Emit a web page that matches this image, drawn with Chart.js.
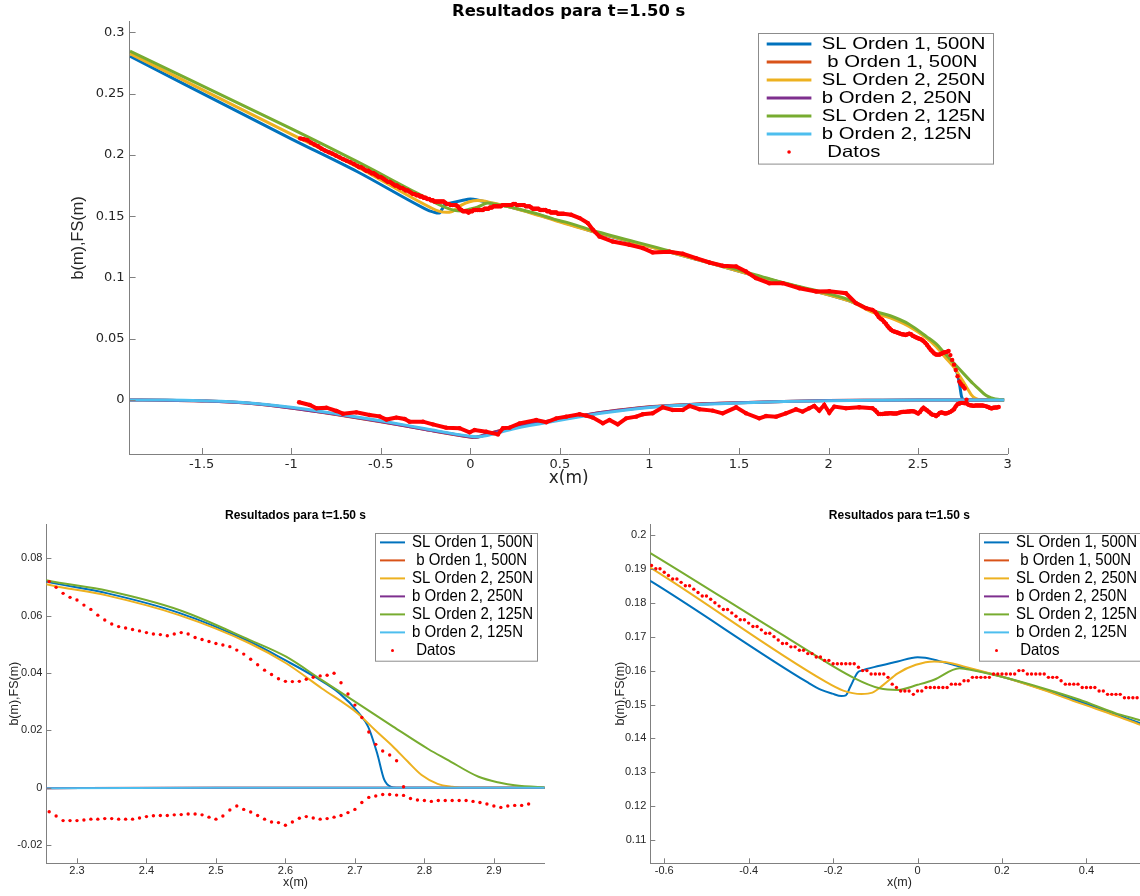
<!DOCTYPE html>
<html>
<head>
<meta charset="utf-8">
<script src="https://cdn.jsdelivr.net/npm/chart.js@4"></script>
<style>
html, body { margin: 0; padding: 0; background: #fff; overflow: hidden; width: 1140px; height: 896px; }
canvas { position: absolute; }
</style>
</head>
<body>
<canvas id="graph" width="1140" height="490" style="left:0;top:0"></canvas>
<canvas id="frente" width="570" height="396" style="left:0;top:500px"></canvas>
<canvas id="resalto" width="579" height="396" style="left:570px;top:500px"></canvas>
<script>
// superficie libre, modelo orden 1 con 500 nodos
const slO1X = [-1.9, -1.0, -0.63, -0.26, -0.228, -0.202, -0.18, -0.17, -0.159, -0.142, -0.133, -0.09, -0.047, 0, 0.018, 0.039, 0.099, 0.168, 0.211, 0.297, 0.384, 0.504, 0.684, 1.112, 1.595, 1.93, 2.115, 2.256, 2.344, 2.447, 2.549, 2.601, 2.642, 2.678, 2.706, 2.719, 2.732, 2.742, 2.752, 2.76, 2.98];
const slO1Y = [0.2805, 0.2131, 0.1862, 0.1565, 0.1543, 0.1532, 0.1525, 0.1527, 0.1553, 0.1594, 0.1600, 0.1614, 0.1627, 0.1639, 0.1638, 0.1632, 0.1612, 0.1592, 0.1578, 0.1545, 0.1509, 0.1455, 0.1375, 0.1208, 0.1012, 0.0885, 0.0808, 0.0719, 0.0678, 0.0610, 0.0509, 0.0443, 0.0387, 0.0329, 0.0259, 0.0213, 0.0120, 0.0029, 0.0003, 0, 0];

// orden 2, 250 nodos
const slO2aX = [-1.9, -1.0, -0.631, -0.219, -0.176, -0.133, -0.107, -0.081, -0.047, -0.004, 0.039, 0.065, 0.125, 0.211, 0.297, 0.384, 0.47, 0.528, 0.684, 1.112, 1.595, 1.93, 2.115, 2.256, 2.344, 2.447, 2.549, 2.601, 2.652, 2.704, 2.729, 2.755, 2.776, 2.796, 2.819, 2.84, 2.858, 2.98];
const slO2aY = [0.2827, 0.2170, 0.1902, 0.1568, 0.1541, 0.1531, 0.1535, 0.1558, 0.1592, 0.1617, 0.1627, 0.1625, 0.1607, 0.1578, 0.1543, 0.1504, 0.1467, 0.1440, 0.1375, 0.1208, 0.1012, 0.0885, 0.0808, 0.0710, 0.0670, 0.0602, 0.0503, 0.0434, 0.0347, 0.0259, 0.0201, 0.0143, 0.0091, 0.0044, 0.0013, 0.0003, 0, 0];

// orden 2, 125 nodos
const slO2bX = [-1.9, -1.0, -0.631, -0.30, -0.15, -0.09, -0.047, 0, 0.039, 0.099, 0.134, 0.211, 0.297, 0.384, 0.47, 0.528, 0.684, 1.112, 1.595, 1.743, 1.93, 2.115, 2.256, 2.344, 2.447, 2.549, 2.601, 2.652, 2.704, 2.755, 2.806, 2.832, 2.878, 2.909, 2.93, 2.98];
const slO2bY = [0.2846, 0.2215, 0.1945, 0.1690, 0.1578, 0.1548, 0.1543, 0.1558, 0.1573, 0.1607, 0.1600, 0.1578, 0.1548, 0.1514, 0.1474, 0.1453, 0.1383, 0.1217, 0.1021, 0.0958, 0.0893, 0.0817, 0.0724, 0.0687, 0.0620, 0.0515, 0.0457, 0.0376, 0.0294, 0.0213, 0.0134, 0.0099, 0.0038, 0.0017, 0.0008, 0];

// fondo (b)
const fondoX = [-1.9, -1.7, -1.5, -1.25, -1.0, -0.75, -0.5, -0.25, 0, 0.02, 0.1, 0.25, 0.5, 0.75, 1.0, 1.25, 1.5, 1.75, 2.0, 2.25, 2.5, 2.98];
const fondoO1Y = [0, -0.0002, -0.0008, -0.0025, -0.0066, -0.0118, -0.0177, -0.0242, -0.0303, -0.0306, -0.0275, -0.0218, -0.0157, -0.0098, -0.0056, -0.0035, -0.0022, -0.0012, -0.0005, -0.0002, 0, 0];
const fondoO2aY = [0, -0.0002, -0.0008, -0.0025, -0.0065, -0.0117, -0.0176, -0.0241, -0.0302, -0.0305, -0.0276, -0.0219, -0.0158, -0.0099, -0.0057, -0.0035, -0.0022, -0.0012, -0.0005, -0.0002, 0, 0];
const fondoO2bX = [-1.9, -1.7, -1.5, -1.25, -1.0, -0.75, -0.5, -0.25, 0, 0.04, 0.1, 0.25, 0.5, 0.75, 1.0, 1.25, 1.5, 1.75, 2.0, 2.25, 2.5, 2.98];
const fondoO2bY = [0, -0.0001, -0.0007, -0.0022, -0.0060, -0.0112, -0.0170, -0.0235, -0.0296, -0.0300, -0.0288, -0.0233, -0.0166, -0.0105, -0.0061, -0.0038, -0.0024, -0.0013, -0.0006, -0.0002, 0, 0];

// datos medidos: superficie
const datosSupX = [
  -0.95, -0.93, -0.91, -0.89, -0.87, -0.85, -0.83, -0.81, -0.79, -0.77, -0.75, -0.73, -0.71, -0.69, -0.67, -0.65,
  -0.63, -0.62, -0.61, -0.6, -0.59, -0.58, -0.57, -0.56, -0.55, -0.54,
  -0.53, -0.52, -0.51, -0.5, -0.49, -0.48, -0.47, -0.46, -0.45, -0.44,
  -0.43, -0.42, -0.41, -0.4, -0.39, -0.38, -0.37, -0.36, -0.35, -0.34,
  -0.33, -0.32, -0.31, -0.3, -0.29, -0.28, -0.27, -0.26, -0.25, -0.24,
  -0.23, -0.22, -0.21, -0.2, -0.19, -0.18, -0.17, -0.16, -0.15, -0.14,
  -0.13, -0.12, -0.11, -0.1, -0.09, -0.08, -0.07, -0.06, -0.05, -0.04,
  -0.03, -0.02, -0.01, 0, 0.01, 0.02, 0.03, 0.04, 0.05, 0.06,
  0.07, 0.08, 0.09, 0.1, 0.11, 0.12, 0.13, 0.14, 0.15, 0.16,
  0.17, 0.18, 0.19, 0.2, 0.21, 0.22, 0.23, 0.24, 0.25, 0.26,
  0.27, 0.28, 0.29, 0.3, 0.31, 0.32, 0.33, 0.34, 0.35, 0.36,
  0.37, 0.38, 0.39, 0.4, 0.41, 0.42, 0.43, 0.44, 0.45, 0.46,
  0.47, 0.48, 0.49, 0.5, 0.51, 0.52,
  0.563, 0.61, 0.656, 0.684, 0.721, 0.795, 0.888, 0.963, 1.018, 1.112, 1.186, 1.26, 1.335,
  1.409, 1.484, 1.539, 1.595, 1.669, 1.743, 1.837, 1.93, 2.004, 2.097, 2.153, 2.209, 2.245,
  2.26, 2.27, 2.28, 2.29, 2.3, 2.31, 2.32, 2.33, 2.34, 2.35,
  2.36, 2.37, 2.38, 2.39, 2.4, 2.41, 2.42, 2.43, 2.44, 2.45,
  2.46, 2.47, 2.48, 2.49, 2.5, 2.51, 2.52, 2.53, 2.54, 2.55,
  2.56, 2.57, 2.58, 2.59, 2.6, 2.61, 2.62, 2.63, 2.64, 2.65,
  2.66, 2.67, 2.68, 2.69, 2.7, 2.71, 2.72, 2.73, 2.74, 2.75,
  2.76, 2.77
];
const datosSupY = [
  0.2135, 0.2128, 0.2120, 0.2100, 0.2085, 0.2070, 0.2050, 0.2035, 0.2022, 0.2010, 0.1995, 0.1980, 0.1965, 0.1952, 0.1940, 0.1925,
  0.191, 0.190, 0.190, 0.189, 0.188, 0.187, 0.187, 0.186, 0.185, 0.185,
  0.184, 0.183, 0.182, 0.182, 0.181, 0.180, 0.179, 0.178, 0.178, 0.177,
  0.176, 0.175, 0.175, 0.174, 0.173, 0.173, 0.172, 0.171, 0.171, 0.170,
  0.169, 0.168, 0.168, 0.167, 0.167, 0.166, 0.166, 0.165, 0.165, 0.164,
  0.164, 0.163, 0.163, 0.162, 0.162, 0.162, 0.162, 0.162, 0.162, 0.161,
  0.160, 0.160, 0.159, 0.159, 0.159, 0.159, 0.158, 0.156, 0.155, 0.154,
  0.154, 0.154, 0.153, 0.154, 0.154, 0.155, 0.155, 0.155, 0.155, 0.155,
  0.155, 0.156, 0.156, 0.156, 0.157, 0.157, 0.158, 0.158, 0.158, 0.158,
  0.158, 0.159, 0.159, 0.159, 0.159, 0.159, 0.159, 0.160, 0.160, 0.159,
  0.159, 0.159, 0.159, 0.159, 0.158, 0.158, 0.158, 0.157, 0.156, 0.156,
  0.156, 0.156, 0.155, 0.155, 0.155, 0.155, 0.154, 0.154, 0.153, 0.153,
  0.153, 0.153, 0.152, 0.152, 0.152, 0.152,
  0.1511, 0.1484, 0.1443, 0.1389, 0.1334, 0.1293, 0.1266, 0.1239, 0.1204, 0.1209, 0.1193, 0.1157, 0.1122,
  0.1095, 0.1089, 0.1048, 0.0994, 0.0953, 0.0953, 0.0912, 0.0885, 0.0888, 0.0871, 0.0790, 0.0749, 0.0735,
  0.0719, 0.0699, 0.0678, 0.0664, 0.0655, 0.0637, 0.0622, 0.0602, 0.0585, 0.0571,
  0.0562, 0.0557, 0.0552, 0.0547, 0.0541, 0.0536, 0.0534, 0.0530, 0.0536, 0.0541,
  0.0536, 0.0524, 0.0517, 0.0510, 0.0503, 0.0498, 0.0492, 0.0480, 0.0466, 0.0448,
  0.0429, 0.0410, 0.0395, 0.0380, 0.0371, 0.0370, 0.0371, 0.0378, 0.0385, 0.0390,
  0.0392, 0.0399, 0.0366, 0.0327, 0.0288, 0.0245, 0.0194, 0.0151, 0.0128, 0.0114,
  0.0094, 0.0003
];

// datos medidos: fondo
const datosFondoX = [
  -0.956, -0.896, -0.859, -0.803, -0.747, -0.711, -0.636, -0.562, -0.506, -0.468, -0.413, -0.366, -0.339, -0.264, -0.209, -0.134,
  -0.06, -0.004, 0.024, 0.089, 0.154, 0.182, 0.219, 0.275, 0.368, 0.424, 0.48, 0.535, 0.61, 0.647, 0.684, 0.74,
  0.777, 0.823, 0.87, 0.926, 0.963, 1.018, 1.074, 1.13, 1.186, 1.223, 1.279, 1.353, 1.409, 1.484, 1.539, 1.613,
  1.651, 1.707, 1.762, 1.818, 1.855, 1.892, 1.92, 1.948, 1.976, 2.004, 2.032, 2.097, 2.171, 2.245,
  2.26, 2.27, 2.28, 2.29, 2.3, 2.31, 2.32, 2.33, 2.34, 2.35,
  2.36, 2.37, 2.38, 2.39, 2.4, 2.41, 2.42, 2.43, 2.44, 2.45,
  2.46, 2.47, 2.48, 2.49, 2.5, 2.51, 2.52, 2.53, 2.54, 2.55,
  2.56, 2.57, 2.58, 2.59, 2.6, 2.61, 2.62, 2.63, 2.64, 2.65,
  2.66, 2.67, 2.68, 2.69, 2.7, 2.71, 2.72, 2.73, 2.74, 2.75,
  2.76, 2.77, 2.78, 2.79, 2.8, 2.81, 2.82, 2.83, 2.84, 2.85,
  2.86, 2.87, 2.88, 2.89, 2.9, 2.91, 2.92, 2.93, 2.94, 2.95
];
const datosFondoY = [
  -0.0019, -0.0041, -0.0068, -0.0063, -0.0090, -0.0112, -0.0101, -0.0123, -0.0134, -0.0160, -0.0144, -0.0155, -0.0177, -0.0177, -0.0199, -0.0226,
  -0.0231, -0.0264, -0.0245, -0.0259, -0.0281, -0.0231, -0.0226, -0.0191, -0.0163, -0.0182, -0.0150, -0.0136, -0.0117, -0.0128, -0.0144, -0.0190,
  -0.0163, -0.0199, -0.0150, -0.0136, -0.0117, -0.0109, -0.0060, -0.0082, -0.0082, -0.0049, -0.0076, -0.0087, -0.0109, -0.0060, -0.0109, -0.0150,
  -0.0131, -0.0136, -0.0109, -0.0076, -0.0095, -0.0068, -0.0049, -0.0087, -0.0041, -0.0104, -0.0054, -0.0068, -0.0060, -0.0068,
  -0.0084, -0.0099, -0.0115, -0.0115, -0.0115, -0.0113, -0.0110, -0.0110, -0.0108, -0.0108,
  -0.0110, -0.0110, -0.0110, -0.0106, -0.0101, -0.0098, -0.0097, -0.0097, -0.0095, -0.0094,
  -0.0092, -0.0092, -0.0095, -0.0103, -0.0110, -0.0099, -0.0078, -0.0064, -0.0076, -0.0085,
  -0.0097, -0.0110, -0.0120, -0.0122, -0.0131, -0.0120, -0.0107, -0.0101, -0.0106, -0.0110,
  -0.0108, -0.0103, -0.0097, -0.0087, -0.0076, -0.0052, -0.0034, -0.0029, -0.0024, -0.0024,
  -0.0026, -0.0027, -0.0038, -0.0043, -0.0045, -0.0048, -0.0045, -0.0045, -0.0045, -0.0045,
  -0.0045, -0.0048, -0.0052, -0.0057, -0.0064, -0.0069, -0.0064, -0.0062, -0.0062, -0.0057
];

// ticks de cada panel
const graphXTicks = [-1.5, -1, -0.5, 0, 0.5, 1, 1.5, 2, 2.5, 3];
const graphYTicks = [0, 0.05, 0.1, 0.15, 0.2, 0.25, 0.3];
const frenteXTicks = [2.3, 2.4, 2.5, 2.6, 2.7, 2.8, 2.9];
const frenteYTicks = [-0.02, 0, 0.02, 0.04, 0.06, 0.08];
const resaltoXTicks = [-0.6, -0.4, -0.2, 0, 0.2, 0.4];
const resaltoYTicks = [0.11, 0.12, 0.13, 0.14, 0.15, 0.16, 0.17, 0.18, 0.19, 0.2];

const TEXT = '#262626';
const AXIS = '#808080';

function pts(xs, ys) {
  return xs.map((x, i) => ({x: x, y: ys[i]}));
}

function makeDatasets(big) {
  const w = big ? 3 : 2;
  const line = (label, xs, ys, color) => ({
    label: label,
    data: pts(xs, ys),
    borderColor: color,
    backgroundColor: color,
    borderWidth: w,
    pointRadius: 0,
    showLine: true,
    cubicInterpolationMode: 'monotone'
  });
  const datos = (label, xs, ys) => ({
    label: label,
    data: pts(xs, ys),
    borderColor: '#ff0000',
    backgroundColor: '#ff0000',
    showLine: big,
    borderWidth: 4,
    pointRadius: big ? 2.2 : 1.7,
    pointBorderWidth: 0,
    // los tramos muy empinados quedan como puntos sueltos
    segment: {
      borderColor: c => Math.abs((c.p1.parsed.y - c.p0.parsed.y) / (c.p1.parsed.x - c.p0.parsed.x)) > 0.3 ? 'rgba(0,0,0,0)' : undefined
    }
  });
  const list = [
    line('SL Orden 1, 500N', slO1X, slO1Y, '#0072BD'),
    line(' b Orden 1, 500N', fondoX, fondoO1Y, '#D95319'),
    line('SL Orden 2, 250N', slO2aX, slO2aY, '#EDB120'),
    line('b Orden 2, 250N', fondoX, fondoO2aY, '#7E2F8E'),
    line('SL Orden 2, 125N', slO2bX, slO2bY, '#77AC30'),
    line('b Orden 2, 125N', fondoO2bX, fondoO2bY, '#4DBEEE'),
    datos(' Datos', datosSupX, datosSupY),
    datos('', datosFondoX, datosFondoY)
  ];
  // los ultimos se dibujan encima
  list.forEach((d, i) => { d.order = list.length - i; });
  return list;
}

const tickMarks = {
  id: 'tickMarks',
  afterDraw(chart, args, o) {
    const {ctx, chartArea: a} = chart;
    const sx = chart.scales.x, sy = chart.scales.y;
    ctx.save();
    ctx.strokeStyle = AXIS;
    ctx.lineWidth = 1;
    ctx.beginPath();
    sx.ticks.forEach(t => {
      const p = Math.round(sx.getPixelForValue(t.value)) + 0.5;
      ctx.moveTo(p, a.bottom);
      ctx.lineTo(p, a.bottom - o.len);
    });
    sy.ticks.forEach(t => {
      const p = Math.round(sy.getPixelForValue(t.value)) + 0.5;
      ctx.moveTo(a.left, p);
      ctx.lineTo(a.left + o.len, p);
    });
    ctx.stroke();
    ctx.restore();
  }
};

const legendBox = {
  id: 'legendBox',
  afterDraw(chart, args, o) {
    const ctx = chart.ctx;
    const left = Math.round(chart.chartArea.left + o.left);
    const top = Math.round(chart.chartArea.top + o.top);
    ctx.save();
    ctx.fillStyle = '#fff';
    ctx.fillRect(left, top, o.width, o.height);
    ctx.strokeStyle = '#8c8c8c';
    ctx.lineWidth = 1;
    ctx.strokeRect(left + 0.5, top + 0.5, o.width, o.height);
    ctx.font = o.font;
    ctx.textBaseline = 'middle';
    ctx.textAlign = 'left';
    let row = 0;
    chart.data.datasets.forEach(ds => {
      if (!ds.label) return;
      const y = top + o.first + row * o.step;
      if (ds.pointRadius > 0) {
        ctx.fillStyle = ds.backgroundColor;
        ctx.beginPath();
        ctx.arc(left + (o.lineFrom + o.lineTo) / 2, y, o.dotR, 0, Math.PI * 2);
        ctx.fill();
      } else {
        ctx.strokeStyle = ds.borderColor;
        ctx.lineWidth = o.lineWidth;
        ctx.beginPath();
        ctx.moveTo(left + o.lineFrom, y);
        ctx.lineTo(left + o.lineTo, y);
        ctx.stroke();
      }
      ctx.fillStyle = '#000';
      ctx.save();
      ctx.translate(left + o.textX, y);
      ctx.scale(o.stretch, 1);
      ctx.fillText(ds.label, 0, 0);
      ctx.restore();
      row++;
    });
    ctx.restore();
  }
};

function drawPanel(id, c) {
  return new Chart(document.getElementById(id).getContext('2d'), {
    type: 'scatter',
    data: { datasets: makeDatasets(c.big) },
    plugins: [tickMarks, legendBox],
    options: {
      responsive: false,
      animation: false,
      events: [],
      devicePixelRatio: 1,
      layout: { padding: { left: 0, top: 0, bottom: 0, right: c.padRight }, autoPadding: false },
      plugins: {
        legend: { display: false },
        tooltip: { enabled: false },
        title: {
          display: true,
          text: 'Resultados para t=1.50 s',
          color: '#000',
          font: c.titleFont,
          padding: c.titlePad,
          fullSize: false
        },
        tickMarks: { len: c.tickLen },
        legendBox: c.legend
      },
      scales: {
        x: {
          type: 'linear',
          position: 'bottom',
          min: c.xRange[0],
          max: c.xRange[1],
          afterBuildTicks: s => { s.ticks = c.xTicks.map(v => ({value: v})); },
          afterFit: s => { s.height = c.xAxisH; },
          grid: { display: false, drawTicks: false },
          border: { display: true, color: AXIS, width: 1 },
          ticks: { color: TEXT, font: c.tickFont, padding: c.xTickPad, maxRotation: 0, autoSkip: false, callback: v => String(v) },
          title: { display: true, text: 'x(m)', color: TEXT, font: c.xTitleFont, padding: { top: 0, bottom: c.xTitlePad } }
        },
        y: {
          type: 'linear',
          position: 'left',
          min: c.yRange[0],
          max: c.yRange[1],
          afterBuildTicks: s => { s.ticks = c.yTicks.map(v => ({value: v})); },
          afterFit: s => { s.width = c.yAxisW; },
          grid: { display: false, drawTicks: false },
          border: { display: true, color: AXIS, width: 1 },
          ticks: { color: TEXT, font: c.tickFont, padding: c.yTickPad, autoSkip: false, callback: v => String(v) },
          title: { display: true, text: 'b(m),FS(m)', color: TEXT, font: c.yTitleFont, padding: { top: c.yTitlePad, bottom: 0 } }
        }
      }
    }
  });
}

const smallLegend = {
  left: 328.5, top: 9.3, width: 162, height: 127.7, first: 9.4, step: 18,
  lineFrom: 5, lineTo: 30, textX: 37, font: '16.5px "Liberation Sans", Arial, sans-serif',
  stretch: 0.91, lineWidth: 2, dotR: 1.5
};

drawPanel('graph', {
  big: true,
  padRight: 132.3,
  xRange: [-1.902, 3.0], yRange: [-0.0441, 0.3087],
  xTicks: graphXTicks, yTicks: graphYTicks,
  xAxisH: 36, yAxisW: 129.6,
  tickLen: 6,
  tickFont: { family: '"DejaVu Sans", sans-serif', size: 13 },
  xTickPad: 2.5, yTickPad: 5,
  titleFont: { family: '"DejaVu Sans", sans-serif', size: 16.4, weight: 'bold' },
  titlePad: { top: 2, bottom: 0 },
  xTitleFont: { family: '"DejaVu Sans", sans-serif', size: 17 },
  xTitlePad: 1.3,
  yTitleFont: { family: '"Liberation Sans", Arial, sans-serif', size: 16.3 },
  yTitlePad: 69.2,
  legend: {
    left: 628.7, top: 11, width: 235, height: 130.6, first: 11, step: 18,
    lineFrom: 8.7, lineTo: 53.4, textX: 63.7, font: '16.5px "Liberation Sans", Arial, sans-serif',
    stretch: 1.23, lineWidth: 3, dotR: 1.8
  }
});

const smallPanel = {
  big: false,
  xAxisH: 32.7,
  tickLen: 5,
  tickFont: { family: '"Liberation Sans", Arial, sans-serif', size: 11 },
  xTickPad: 1.1, yTickPad: 4,
  titleFont: { family: '"Liberation Sans", Arial, sans-serif', size: 12, weight: 'bold' },
  titlePad: { top: 8.8, bottom: 0.8 },
  xTitleFont: { family: '"Liberation Sans", Arial, sans-serif', size: 12.5 },
  xTitlePad: 5.5,
  yTitleFont: { family: '"Liberation Sans", Arial, sans-serif', size: 12.5 },
  legend: smallLegend
};

drawPanel('frente', Object.assign({}, smallPanel, {
  padRight: 25.4,
  xRange: [2.256, 2.973], yRange: [-0.0264, 0.092],
  xTicks: frenteXTicks, yTicks: frenteYTicks,
  yAxisW: 46.4,
  yTitlePad: 6.8
}));

drawPanel('resalto', Object.assign({}, smallPanel, {
  padRight: 0.5,
  xRange: [-0.633, 0.547], yRange: [0.1032, 0.2032],
  xTicks: resaltoXTicks, yTicks: resaltoYTicks,
  yAxisW: 80.3,
  yTitlePad: 43.5
}));
</script>
</body>
</html>
